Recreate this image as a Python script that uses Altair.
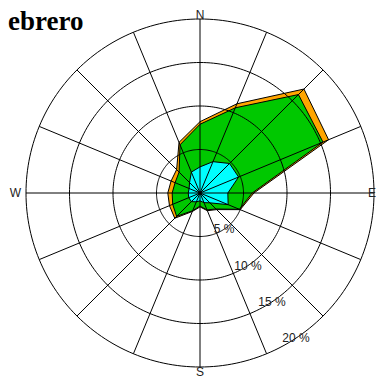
import altair as alt
import numpy as np
import pandas as pd

# ---------------- data ----------------
directions = ["N", "NNE", "NE", "ENE", "E", "ESE", "SE", "SSE",
              "S", "SSW", "SW", "WSW", "W", "WNW", "NW", "NNW"]
bearings = [0, 22.5, 45, 67.5, 90, 112.5, 135, 157.5,
            180, 202.5, 225, 247.5, 270, 292.5, 315, 337.5]

# frequency (%) per speed class and direction
freq_low = [3.0, 3.9, 4.8, 4.8, 3.2, 3.5, 1.6, 1.2, 0.9, 1.1, 1.4, 1.4, 1.35, 1.35, 1.7, 2.6]
freq_mid = [4.9, 6.7, 11.2, 10.5, 2.8, 1.4, 1.0, 0.9, 0.6, 1.1, 2.4, 2.0, 1.85, 1.75, 1.7, 3.4]
freq_high = [0.3, 0.5, 0.9, 0.7, 0.2, 0.1, 0.1, 0.1, 0.1, 0.1, 0.3, 0.4, 0.5, 0.5, 0.4, 0.3]

class_names = ["baja", "media", "alta"]
class_colors = ["#00FFFF", "#00C800", "#FFA500"]

rings = [5, 10, 15, 20]
ring_labels = ["5 %", "10 %", "15 %", "20 %"]
ring_label_bearing = 146.5

compass_labels = ["N", "E", "S", "W"]
compass_bearings = [0, 90, 180, 270]

title_text = "Febrero"

# ---------------- geometry helpers ----------------
K = 174 / 20.0           # px per percent
W, H = 368, 371
CX, CY = 192, 185
xdom = [-CX / K, (W - CX) / K]
ydom = [-(H - CY) / K, CY / K]

xs = alt.Scale(domain=xdom, nice=False, zero=False)
ys = alt.Scale(domain=ydom, nice=False, zero=False)


def polar(r, b):
    rad = np.deg2rad(b)
    return r * np.sin(rad), r * np.cos(rad)


freqs = np.array([freq_low, freq_mid, freq_high])
cum = np.cumsum(freqs, axis=0)

layers = []
# polygons, outermost first
for ci in [2, 1, 0]:
    rows = []
    for i in range(len(directions) + 1):
        j = i % len(directions)
        x, y = polar(cum[ci][j], bearings[j])
        rows.append({"i": i, "x": x, "y": y, "dir": directions[j]})
    df = pd.DataFrame(rows)
    layers.append(
        alt.Chart(df).mark_line(fill=class_colors[ci], stroke="black",
                                strokeWidth=1, fillOpacity=1, strokeJoin="miter")
        .encode(x=alt.X("x:Q", scale=xs, axis=None),
                y=alt.Y("y:Q", scale=ys, axis=None),
                order="i:Q")
    )

# ring circles
ring_rows = []
for r in rings:
    for k, b in enumerate(np.linspace(0, 360, 241)):
        x, y = polar(r, b)
        ring_rows.append({"ring": r, "k": k, "x": x, "y": y})
ring_df = pd.DataFrame(ring_rows)
layers.append(
    alt.Chart(ring_df).mark_line(stroke="black", strokeWidth=1)
    .encode(x=alt.X("x:Q", scale=xs, axis=None),
            y=alt.Y("y:Q", scale=ys, axis=None),
            detail="ring:N", order="k:Q")
)

# spokes
spoke_rows = []
for b in bearings:
    x2, y2 = polar(max(rings), b)
    spoke_rows.append({"x": 0.0, "y": 0.0, "x2": x2, "y2": y2})
spoke_df = pd.DataFrame(spoke_rows)
layers.append(
    alt.Chart(spoke_df).mark_rule(stroke="black", strokeWidth=1)
    .encode(x=alt.X("x:Q", scale=xs, axis=None),
            y=alt.Y("y:Q", scale=ys, axis=None),
            x2="x2:Q", y2="y2:Q")
)

# ring labels
rl_rows = []
for r, t in zip(rings, ring_labels):
    x, y = polar(r, ring_label_bearing)
    rl_rows.append({"x": x, "y": y, "t": t})
layers.append(
    alt.Chart(pd.DataFrame(rl_rows)).mark_text(
        font="Liberation Sans", fontSize=12, color="#222222",
        align="center", baseline="middle")
    .encode(x=alt.X("x:Q", scale=xs, axis=None),
            y=alt.Y("y:Q", scale=ys, axis=None), text="t:N")
)

# compass labels (kept inside the drawable page area)
lab_style = dict(font="Liberation Sans", fontSize=12, color="#222222")
layers.append(
    alt.Chart(pd.DataFrame({"t": [compass_labels[0]]})).mark_text(
        align="center", baseline="top", **lab_style)
    .encode(x=alt.value(CX), y=alt.value(1.5), text="t:N")
)
layers.append(
    alt.Chart(pd.DataFrame({"t": [compass_labels[1]]})).mark_text(
        align="right", baseline="middle", **lab_style)
    .encode(x=alt.value(W), y=alt.value(CY), text="t:N")
)
layers.append(
    alt.Chart(pd.DataFrame({"t": [compass_labels[2]]})).mark_text(
        align="center", baseline="bottom", **lab_style)
    .encode(x=alt.value(CX), y=alt.value(H), text="t:N")
)
layers.append(
    alt.Chart(pd.DataFrame({"t": [compass_labels[3]]})).mark_text(
        align="center", baseline="middle", **lab_style)
    .encode(x=alt.value(CX - 184.5), y=alt.value(CY), text="t:N")
)

# title
layers.append(
    alt.Chart(pd.DataFrame({"t": [title_text]})).mark_text(
        font="Liberation Serif", fontSize=27, fontWeight="bold", color="black",
        align="left", baseline="alphabetic")
    .encode(x=alt.value(-16.5), y=alt.value(22), text="t:N")
)

chart = alt.layer(*layers).properties(
    width=W, height=H,
    autosize=alt.AutoSizeParams(type="none"),
    padding=0,
).configure_view(stroke=None)

chart.save("out.html", embed_options={"renderer": "svg", "actions": False})
